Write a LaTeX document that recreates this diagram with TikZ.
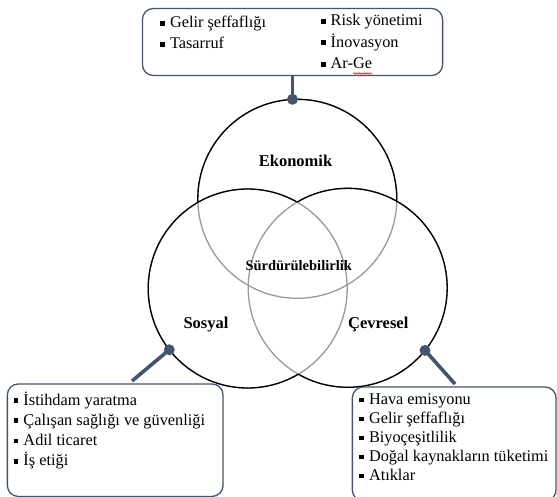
\documentclass[tikz,border=0pt]{standalone}
\usepackage{fontspec}
\setmainfont{Liberation Serif}
\usepackage{tikz}
\usetikzlibrary{decorations.pathmorphing}
\definecolor{slate}{RGB}{68,84,106}
\newcommand{\sqb}{\rule[2.4pt]{4.6pt}{4.6pt}\hspace{5.2pt}}
\tikzset{
	ring/.style={circle, draw=black!40, line width=1.3pt, minimum size=199pt, inner sep=0pt, outer sep=0pt},
	box/.style={draw=slate, line width=1.3pt, rounded corners=11pt, inner sep=0pt, outer sep=0pt},
	itm/.style={anchor=base west, inner sep=0pt, font=\fontsize{16.3}{19}\selectfont},
	lbl/.style={anchor=base, inner sep=0pt, font=\bfseries\fontsize{16.5}{20}\selectfont},
	link/.style={slate, line width=3.6pt},
	spell/.style={red, line width=.6pt, decorate, decoration={snake, amplitude=.7pt, segment length=2.6pt}}
}

\begin{document}
\begin{tikzpicture}[x=1pt,y=-1pt]
		\useasboundingbox (0,0) rectangle (557,497);
		\node[ring] (eko) at (297.3,198.8) {};
		\node[ring] (sos) at (247.7,288.5) {};
		\node[ring] (cev) at (347.7,287.8) {};
		% black arcs where no other circle lies over them
		\begin{scope}[even odd rule]
			\clip (0,0) rectangle (557,497) (sos.center) circle[radius=99.5pt];
			\clip (0,0) rectangle (557,497) (cev.center) circle[radius=99.5pt];
			\draw[line width=1.3pt] (eko.center) circle[radius=99.5pt];
		\end{scope}
		\begin{scope}[even odd rule]
			\clip (0,0) rectangle (557,497) (cev.center) circle[radius=99.5pt];
			\draw[line width=1.3pt] (sos.center) circle[radius=99.5pt];
		\end{scope}
		\begin{scope}[even odd rule]
			\clip (0,0) rectangle (557,497) (sos.center) circle[radius=99.5pt];
			\draw[line width=1.3pt] (cev.center) circle[radius=99.5pt];
		\end{scope}

		\node[lbl] (ekolbl) at (295.5,166.7) {Ekonomik};
		\node[lbl, font=\bfseries\fontsize{14.5}{17}\selectfont] (surlbl) at (298.7,270.7) {Sürdürülebilirlik};
		\node[lbl] (soslbl) at (206,328.3) {Sosyal};
		\node[lbl] (cevlbl) at (378.3,328.3) {Çevresel};

		\node[box, minimum width=300.2pt, minimum height=67pt] (ekobox) at (292.5,42) {};
		\node[box, minimum width=215.7pt, minimum height=112.5pt] (sosbox) at (115.2,440.2) {};
		\node[box, minimum width=203.7pt, minimum height=114pt] (cevbox) at (454.2,444) {};

		\foreach \t [count=\i] in {Gelir şeffaflığı, Tasarruf}
			\node[itm] (ekoa\i) at (160,{28+21*(\i-1)}) {\sqb\t};
		\foreach \t [count=\i] in {Risk yönetimi, İnovasyon, Ar-Ge}
			\node[itm] (ekob\i) at (320.7,{26+21.5*(\i-1)}) {\sqb\t};
		\draw[spell] ([xshift=-19pt,yshift=-4.5pt]ekob3.base east) -- ([yshift=-4.5pt]ekob3.base east);
		\foreach \t [count=\i] in {İstihdam yaratma, Çalışan sağlığı ve güvenliği, Adil ticaret, İş etiği}
			\node[itm] (sositem\i) at (13.5,{405+20.3*(\i-1)}) {\sqb\t};
		\foreach \t [count=\i] in {Hava emisyonu, Gelir şeffaflığı, Biyoçeşitlilik, Doğal kaynakların tüketimi, Atıklar}
			\node[itm] (cevitem\i) at (359,{404.5+19*(\i-1)}) {\sqb\t};

		\coordinate (ekodot) at (ekobox.south |- eko.north);
		\coordinate (sosend) at (132,381);
		\coordinate (cevend) at (455,384);
		\draw[link] (ekobox.south) -- (ekodot);
		\draw[link] (sos.218) -- (sosend);
		\draw[link] (cev.321) -- (cevend);
		\fill[slate] (ekodot) circle[radius=5.5pt];
		\fill[slate] (sos.218) circle[radius=5.5pt];
		\fill[slate] (cev.321) circle[radius=5.5pt];
\end{tikzpicture}
\end{document}
